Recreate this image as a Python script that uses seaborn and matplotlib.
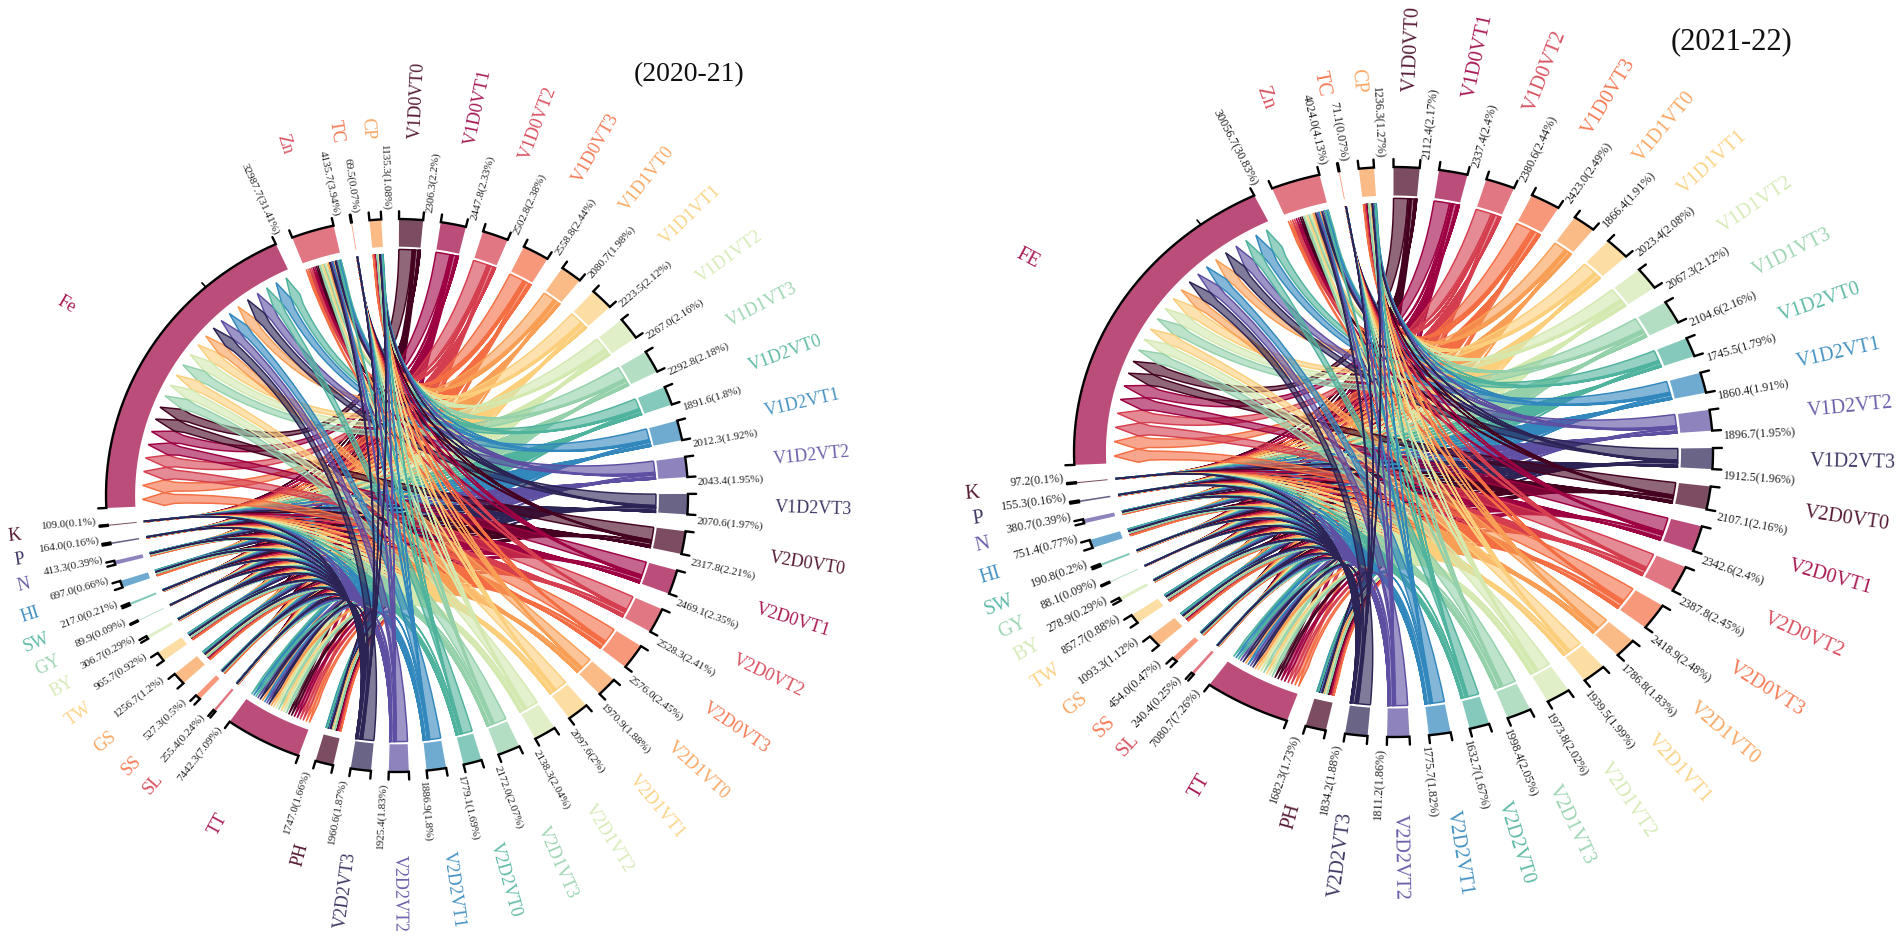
import numpy as np
import seaborn as sb
import matplotlib
matplotlib.use("Agg")
import matplotlib.pyplot as plt
from matplotlib.path import Path
from matplotlib.patches import PathPatch
from matplotlib.colors import to_rgba

# Sector names, clockwise from the top
tratamientos = ["V1D0VT0", "V1D0VT1", "V1D0VT2", "V1D0VT3", "V1D1VT0", "V1D1VT1", "V1D1VT2", "V1D1VT3",
                "V1D2VT0", "V1D2VT1", "V1D2VT2", "V1D2VT3", "V2D0VT0", "V2D0VT1", "V2D0VT2", "V2D0VT3",
                "V2D1VT0", "V2D1VT1", "V2D1VT2", "V2D1VT3", "V2D2VT0", "V2D2VT1", "V2D2VT2", "V2D2VT3"]
variables_1 = ["PH", "TT", "SL", "SS", "GS", "TW", "BY", "GY", "SW", "HI", "N", "P", "K", "Fe", "Zn", "TC", "CP"]
variables_2 = ["PH", "TT", "SL", "SS", "GS", "TW", "BY", "GY", "SW", "HI", "N", "P", "K", "FE", "Zn", "TC", "CP"]

# 2020-21
trat_val_1 = [2306.3, 2447.8, 2502.8, 2558.8, 2080.7, 2223.5, 2267.0, 2292.8, 1891.6, 2012.3, 2043.4, 2070.6,
              2317.8, 2469.1, 2528.3, 2576.0, 1970.9, 2097.6, 2138.3, 2172.0, 1779.1, 1886.9, 1925.4, 1960.6]
trat_pct_1 = [2.2, 2.33, 2.38, 2.44, 1.98, 2.12, 2.16, 2.18, 1.8, 1.92, 1.95, 1.97,
              2.21, 2.35, 2.41, 2.45, 1.88, 2, 2.04, 2.07, 1.69, 1.8, 1.83, 1.87]
var_val_1 = [1747.0, 7442.3, 255.4, 527.3, 1256.7, 965.7, 306.7, 89.9, 217.0, 697.0, 413.3, 164.0, 109.0,
             32987.7, 4135.7, 69.5, 1135.3]
var_pct_1 = [1.66, 7.09, 0.24, 0.5, 1.2, 0.92, 0.29, 0.09, 0.21, 0.66, 0.39, 0.16, 0.1, 31.41, 3.94, 0.07, 1.08]

# 2021-22
trat_val_2 = [2112.4, 2337.4, 2380.6, 2423.0, 1866.4, 2023.4, 2067.3, 2104.6, 1745.5, 1860.4, 1896.7, 1912.5,
              2107.1, 2342.6, 2387.8, 2418.9, 1786.8, 1939.5, 1973.8, 1998.4, 1632.7, 1775.7, 1811.2, 1834.2]
trat_pct_2 = [2.17, 2.4, 2.44, 2.49, 1.91, 2.08, 2.12, 2.16, 1.79, 1.91, 1.95, 1.96,
              2.16, 2.4, 2.45, 2.48, 1.83, 1.99, 2.02, 2.05, 1.67, 1.82, 1.86, 1.88]
var_val_2 = [1682.3, 7080.7, 240.4, 454.0, 1093.3, 857.7, 278.9, 88.1, 190.8, 751.4, 380.7, 155.3, 97.2,
             30056.7, 4024.0, 71.1, 1236.3]
var_pct_2 = [1.73, 7.26, 0.25, 0.47, 1.12, 0.88, 0.29, 0.09, 0.2, 0.77, 0.39, 0.16, 0.1, 30.83, 4.13, 0.07, 1.27]

# Order of the treatment ribbons inside a nutrient sector (as seen in the Fe sector)
orden_trat = [15, 3, 14, 2, 13, 1, 12, 0, 19, 18, 17, 7, 6, 5, 16, 23, 22, 21, 4, 11, 10, 20, 9, 8]
# Order of the nutrient ribbons inside a treatment sector, Fe comes first
orden_var = [13, 14, 15, 16, 0, 1, 2, 3, 4, 5, 6, 7, 8, 9, 10, 11, 12]

paleta = sb.color_palette(["#440220", "#9e0142", "#d53e4f", "#f46d43", "#f99f55", "#fccf7c",
                           "#d3e9b0", "#94d1ab", "#50b39e", "#3288bd", "#5e4fa2", "#2b2455"])

sb.set_theme(style="white")
plt.rcParams["font.family"] = ["Liberation Serif", "DejaVu Serif"]

ANCHO, ALTO = 1902, 937
GAP = 3.5
R_SECTOR = 0.90
R_CINTA = 0.89
R_PUNTA = 0.875


def punto(theta, r):
    t = np.radians(theta)
    return r * np.sin(t), r * np.cos(t)


def arco(a, b, r, n=40):
    t = np.linspace(a, b, n)
    return list(zip(*punto(t, r)))


def cinta(a0, a1, b0, b1, r_c=0.3):
    # ribbon from a treatment (a0-a1) to an arrow head inside a nutrient sector (b0-b1)
    media = (b0 + b1) / 2
    ancho = b1 - b0
    r_h = R_PUNTA - 0.075
    r_n = R_PUNTA - 0.11
    vert = arco(a0, a1, R_CINTA, 6)
    cod = [Path.MOVETO] + [Path.LINETO] * 5
    vert += [punto(a1, r_c), punto(media - 0.36 * ancho, r_c), punto(media - 0.36 * ancho, r_n)]
    cod += [Path.CURVE4] * 3
    vert += [punto(b0, r_h), punto(media, R_PUNTA), punto(b1, r_h), punto(media + 0.36 * ancho, r_n)]
    cod += [Path.LINETO] * 4
    vert += [punto(media + 0.36 * ancho, r_c), punto(a0, r_c), punto(a0, R_CINTA)]
    cod += [Path.CURVE4] * 3
    return Path(vert, cod)


def diagrama(ax, variables, trat_val, trat_pct, var_val, var_pct, rx, ry, inicio, fs_nombre, fs_valor, r_nom):
    nombres = tratamientos + variables
    valores = trat_val + var_val
    pct = np.array(trat_pct + var_pct)
    n_trat = len(tratamientos)
    k = (360 - GAP * len(nombres)) / pct.sum()
    spans = k * pct
    starts = inicio + np.concatenate([[0], np.cumsum(spans[:-1] + GAP)])
    colores = [paleta[i % 12] if i < n_trat else paleta[(i - n_trat) % 12] for i in range(len(nombres))]

    # Only the sector totals can be read off the picture, not each single ribbon,
    # so every sector total is split in proportion to the totals on the other side
    flujo = np.outer(trat_pct, var_pct)

    pos_a = {}
    for i in range(n_trat):
        a = starts[i]
        f = flujo[i] / flujo[i].sum() * spans[i]
        for j in orden_var:
            pos_a[(i, j)] = (a, a + f[j])
            a += f[j]
    pos_b = {}
    for j in range(len(variables)):
        b = starts[n_trat + j]
        f = flujo[:, j] / flujo[:, j].sum() * spans[n_trat + j]
        for i in orden_trat:
            pos_b[(i, j)] = (b, b + f[i])
            b += f[i]

    for i in range(n_trat):
        for j in orden_var:
            a0, a1 = pos_a[(i, j)]
            b0, b1 = pos_b[(i, j)]
            ax.add_patch(PathPatch(cinta(a0, a1, b0, b1), facecolor=to_rgba(colores[i], 0.6),
                                   edgecolor=colores[i], lw=1.05, zorder=2))

    for i, nombre in enumerate(nombres):
        a, b = starts[i], starts[i] + spans[i]
        pts = arco(a, b, 1.0) + arco(b, a, R_SECTOR)
        ax.fill(*zip(*pts), color=colores[i], alpha=0.7, lw=0, zorder=3)

        # black bracket round the sector
        xs, ys = punto(np.linspace(a, b, 40), 1.0)
        xt0, yt0 = punto(a, 1.028)
        xt1, yt1 = punto(b, 1.028)
        ax.plot([xt0, *xs, xt1], [yt0, *ys, yt1], color="black", lw=1.7, zorder=4, solid_joinstyle="miter")

        # ticks every 25000 units, only Fe is long enough to have one
        if valores[i] > 25000:
            tm = a + spans[i] * 25000 / valores[i]
            ax.plot(*zip(punto(tm, 1.0), punto(tm, 1.02)), color="black", lw=1.2, zorder=4)

        medio = (a + b) / 2
        t_m = np.radians(medio)
        r_n = r_nom[0] * np.sin(t_m) ** 2 + r_nom[1] * np.cos(t_m) ** 2
        for th, r, txt, fs, col in [(b + 1.0, 1.035, f"{valores[i]:.1f}({pct[i]:g}%)", fs_valor, "#222222"),
                                    (medio, r_n, nombre, fs_nombre, to_rgba(colores[i], 0.9))]:
            t = np.radians(th)
            rot = np.degrees(np.arctan2(ry * np.cos(t), rx * np.sin(t)))
            derecha = np.sin(t) >= 0
            if not derecha:
                rot += 180
            ax.text(*punto(th, r), txt, rotation=rot, rotation_mode="anchor", fontsize=fs, color=col,
                    ha="left" if derecha else "right", va="center", zorder=5)


fig = plt.figure(figsize=(ANCHO / 100, ALTO / 100), dpi=100)

paneles = [
    (397, 496.5, 291, 276.5, 0.4, 13, 8, (1.30, 1.296), variables_1, trat_val_1, trat_pct_1, var_val_1, var_pct_1),
    (1393.5, 453, 319.5, 285, 0.0, 14.5, 8.7, (1.304, 1.267), variables_2, trat_val_2, trat_pct_2, var_val_2, var_pct_2),
]
for cx, cy, rx, ry, inicio, fs_n, fs_v, r_nom, vars_, t_val, t_pct, v_val, v_pct in paneles:
    ax = fig.add_axes([(cx - rx) / ANCHO, 1 - (cy + ry) / ALTO, 2 * rx / ANCHO, 2 * ry / ALTO])
    ax.set_xlim(-1, 1)
    ax.set_ylim(-1, 1)
    ax.axis("off")
    ax.patch.set_alpha(0)
    diagrama(ax, vars_, t_val, t_pct, v_val, v_pct, rx, ry, inicio, fs_n, fs_v, r_nom)
    for art in ax.patches + ax.lines + ax.texts:
        art.set_clip_on(False)

fig.text(689 / ANCHO, 1 - 75 / ALTO, "(2020-21)", fontsize=20, ha="center", va="center", color="#111111")
fig.text(1731 / ANCHO, 1 - 42 / ALTO, "(2021-22)", fontsize=22, ha="center", va="center", color="#111111")

plt.savefig("out.png", dpi=100)
plt.close()
